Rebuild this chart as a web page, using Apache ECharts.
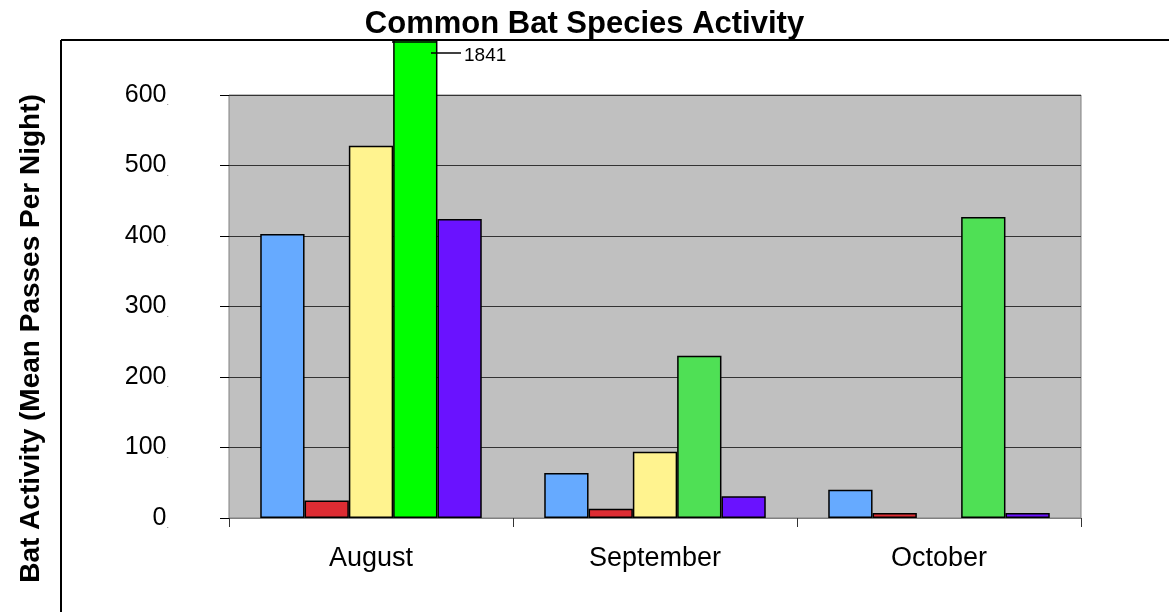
<!DOCTYPE html>
<html>
<head>
<meta charset="utf-8">
<script src="https://cdn.jsdelivr.net/npm/echarts@6/dist/echarts.min.js"></script>
<style>
  html, body { margin: 0; padding: 0; background: #fff; }
  #chart { width: 1169px; height: 612px; }
</style>
</head>
<body>
<div id="chart"></div>
<script>
var months = ['August', 'September', 'October'];
var blueVals = [403, 64, 40];
var redVals = [25, 13, 7];
var yellowVals = [528, 94, null];
var greenVals = [1841, 230, 427];
var purpleVals = [424, 31, 7];
var yTicks = [0, 100, 200, 300, 400, 500, 600];

var font = '"Liberation Sans", Arial, sans-serif';

function barSeries(name, color, data) {
  return {
    name: name,
    type: 'bar',
    data: data,
    barGap: '0%',
    barCategoryGap: '22%',
    itemStyle: { color: color, borderColor: '#000', borderWidth: 1.5 },
    emphasis: { disabled: true }
  };
}

var chart = document.getElementById('chart');
var myChart = echarts.init(chart);

var greenData = greenVals.map(function (v, i) {
  // the off-scale August value is drawn in a brighter green
  return i === 0 ? { value: v, itemStyle: { color: '#00FF00' } } : v;
});
var green = barSeries('Green', '#4FE055', greenData);
green.clip = false;

option = {
  animation: false,
  backgroundColor: '#fff',
  title: {
    text: 'Common Bat Species Activity',
    left: 'center',
    top: 4,
    z: 60,
    textStyle: { fontFamily: font, fontSize: 31, fontWeight: 'bold', color: '#000' }
  },
  grid: {
    left: 229,
    right: 88,
    top: 95,
    bottom: 94,
    show: true,
    backgroundColor: '#C0C0C0',
    borderColor: '#808080',
    borderWidth: 1
  },
  xAxis: {
    type: 'category',
    data: months,
    axisLine: { lineStyle: { color: '#808080', width: 1 } },
    axisTick: { show: true, length: 9, lineStyle: { color: '#333' } },
    axisLabel: { margin: 27, fontFamily: font, fontSize: 27, color: '#000' }
  },
  yAxis: {
    type: 'value',
    min: yTicks[0],
    max: yTicks[yTicks.length - 1],
    interval: 100,
    name: 'Bat Activity (Mean Passes Per Night)',
    nameLocation: 'middle',
    nameGap: 184,
    nameTextStyle: {
      fontFamily: font, fontSize: 28, fontWeight: 'bold', color: '#000',
      padding: [0, 64, 0, 0]
    },
    axisLine: { show: false },
    axisTick: { show: true, length: 9, lineStyle: { color: '#000' } },
    axisLabel: {
      margin: 60,
      fontFamily: font,
      fontSize: 25,
      color: '#000',
      formatter: function (v) { return '{n|' + v + '}{d|.}'; },
      rich: {
        n: { fontFamily: font, fontSize: 25, color: '#000' },
        d: { fontFamily: font, fontSize: 9, color: '#777', verticalAlign: 'bottom' }
      }
    },
    splitLine: { lineStyle: { color: '#333', width: 1 } }
  },
  series: [
    barSeries('Blue', '#66AAFF', blueVals),
    barSeries('Red', '#DD2C33', redVals),
    barSeries('Yellow', '#FFF38F', yellowVals),
    green,
    barSeries('Purple', '#6A12FF', purpleVals)
  ],
  graphic: [
    // white band that crops the off-scale bar under the chart frame
    { type: 'rect', z: 50, silent: true, shape: { x: 0, y: 0, width: 1169, height: 41 }, style: { fill: '#fff' } },
    { type: 'line', z: 60, silent: true, shape: { x1: 61, y1: 40, x2: 1169, y2: 40 }, style: { stroke: '#000', lineWidth: 2 } },
    { type: 'line', z: 60, silent: true, shape: { x1: 61, y1: 40, x2: 61, y2: 612 }, style: { stroke: '#000', lineWidth: 2 } },
    { type: 'line', z: 60, silent: true, shape: { x1: 392, y1: 42, x2: 436, y2: 42 }, style: { stroke: '#000', lineWidth: 1.5 } },
    { type: 'line', z: 60, silent: true, shape: { x1: 431, y1: 53, x2: 461, y2: 53 }, style: { stroke: '#000', lineWidth: 1.5 } },
    {
      type: 'text', z: 60, silent: true, x: 464, y: 56,
      style: { text: String(greenVals[0]), fill: '#000', font: '19px ' + font, verticalAlign: 'middle' }
    }
  ]
};

myChart.setOption(option);
</script>
</body>
</html>
